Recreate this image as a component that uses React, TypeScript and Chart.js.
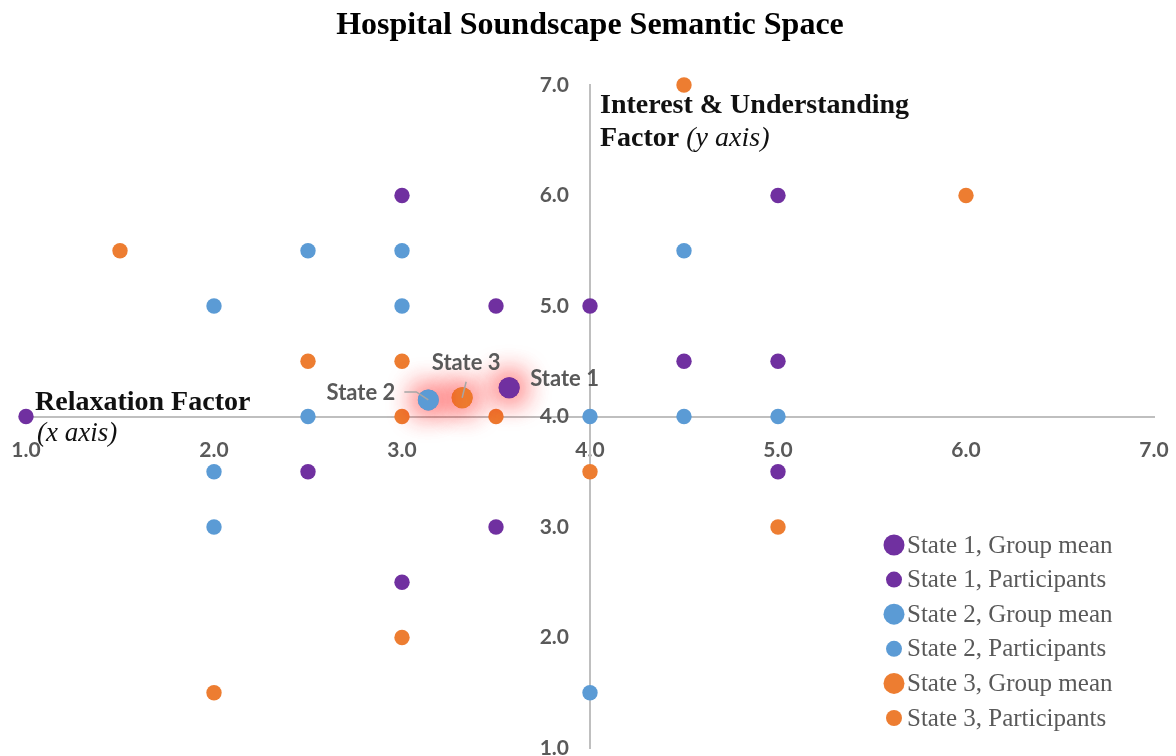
import React, { useEffect, useRef } from "react";
import { Chart, registerables } from "chart.js";

Chart.register(...registerables);

const TITLE = "Hospital Soundscape Semantic Space";
const X_TICKS = [1, 2, 3, 4, 5, 6, 7];
const Y_TICKS = [1, 2, 3, 4, 5, 6, 7];

const seriesLabels = [
  "State 1, Group mean",
  "State 1, Participants",
  "State 2, Group mean",
  "State 2, Participants",
  "State 3, Group mean",
  "State 3, Participants",
];
const meanTags = ["State 1", "State 2", "State 3"];

const state1MeanX = [3.57];
const state1MeanY = [4.26];
const state1X = [1.0, 3.0, 5.0, 3.5, 4.0, 4.5, 5.0, 2.5, 5.0, 3.5, 3.0];
const state1Y = [4.0, 6.0, 6.0, 5.0, 5.0, 4.5, 4.5, 3.5, 3.5, 3.0, 2.5];

const state2MeanX = [3.14];
const state2MeanY = [4.15];
const state2X = [2.5, 3.0, 4.5, 2.0, 3.0, 2.5, 4.0, 4.5, 5.0, 2.0, 2.0, 4.0];
const state2Y = [5.5, 5.5, 5.5, 5.0, 5.0, 4.0, 4.0, 4.0, 4.0, 3.5, 3.0, 1.5];

const state3MeanX = [3.32];
const state3MeanY = [4.17];
const state3X = [4.5, 6.0, 1.5, 2.5, 3.0, 3.0, 3.5, 4.0, 5.0, 3.0, 2.0];
const state3Y = [7.0, 6.0, 5.5, 4.5, 4.5, 4.0, 4.0, 3.5, 3.0, 2.0, 1.5];

const PURPLE = "#7030A0";
const BLUE = "#5B9BD5";
const ORANGE = "#ED7D31";
const GREY_TEXT = "#595959";
const AXIS_GREY = "#BFBFBF";
const SERIF = "'Liberation Serif', 'DejaVu Serif', serif";
const SANS = "Lato, 'Open Sans', sans-serif";

const zip = (xs: number[], ys: number[]) => xs.map((x, i) => ({ x, y: ys[i] }));

const glowPlugin = {
  id: "glow",
  beforeDatasetDraw(chart: any, args: any) {
    const ds = chart.data.datasets[args.index];
    if (ds.isMean) {
      const ctx = chart.ctx;
      ctx.save();
      ctx.shadowColor = "rgba(255, 0, 0, 0.9)";
      ctx.shadowBlur = 30;
      args.meta.data.forEach((el: any) => el.draw(ctx));
    }
  },
  afterDatasetDraw(chart: any, args: any) {
    const ds = chart.data.datasets[args.index];
    if (ds.isMean) chart.ctx.restore();
  },
};

const annotationPlugin = {
  id: "annotations",
  afterDatasetsDraw(chart: any) {
    const ctx = chart.ctx;
    const xs = chart.scales.x;
    const ys = chart.scales.y;
    const px = (v: number) => xs.getPixelForValue(v);
    const py = (v: number) => ys.getPixelForValue(v);
    ctx.save();
    ctx.shadowColor = "transparent";
    ctx.shadowBlur = 0;

    // axis titles
    ctx.fillStyle = "#111111";
    ctx.textAlign = "left";
    ctx.textBaseline = "alphabetic";
    const yax = px(4) + 10;
    const top = py(Y_TICKS[Y_TICKS.length - 1]);
    ctx.font = `bold 28px ${SERIF}`;
    ctx.fillText("Interest & Understanding", yax, top + 28);
    ctx.fillText("Factor ", yax, top + 61);
    const fw = ctx.measureText("Factor ").width;
    ctx.font = `italic 28px ${SERIF}`;
    ctx.fillText("(y axis)", yax + fw, top + 61);

    const xax = px(X_TICKS[0]);
    ctx.font = `bold 28px ${SERIF}`;
    ctx.fillText("Relaxation Factor", xax + 9, py(4) - 7);
    ctx.font = `italic 27px ${SERIF}`;
    ctx.fillText("(x axis)", xax + 11, py(4) + 24);

    // group-mean tags
    const m1 = { x: px(state1MeanX[0]), y: py(state1MeanY[0]) };
    const m2 = { x: px(state2MeanX[0]), y: py(state2MeanY[0]) };
    const m3 = { x: px(state3MeanX[0]), y: py(state3MeanY[0]) };

    ctx.strokeStyle = "#A6A6A6";
    ctx.lineWidth = 1.5;
    ctx.beginPath();
    ctx.moveTo(m2.x - 24, m2.y - 8);
    ctx.lineTo(m2.x - 12, m2.y - 8);
    ctx.lineTo(m2.x, m2.y);
    ctx.stroke();
    ctx.beginPath();
    ctx.moveTo(m3.x + 4, m3.y - 16);
    ctx.lineTo(m3.x, m3.y);
    ctx.stroke();

    ctx.fillStyle = GREY_TEXT;
    ctx.font = `bold 22px ${SANS}`;
    ctx.textBaseline = "middle";
    ctx.textAlign = "left";
    ctx.fillText(meanTags[0], m1.x + 21, m1.y - 9);
    ctx.textAlign = "right";
    ctx.fillText(meanTags[1], m2.x - 33, m2.y - 7);
    ctx.textAlign = "center";
    ctx.fillText(meanTags[2], m3.x + 4, m3.y - 35);

    // legend
    const lx = 894;
    let ly = 545;
    ctx.textAlign = "left";
    ctx.font = `25px ${SERIF}`;
    chart.data.datasets.forEach((ds: any) => {
      ctx.fillStyle = ds.backgroundColor;
      ctx.beginPath();
      ctx.arc(lx, ly, ds.isMean ? 10.5 : 8, 0, Math.PI * 2);
      ctx.fill();
      ctx.fillStyle = GREY_TEXT;
      ctx.fillText(ds.label, lx + 13, ly + 1);
      ly += 34.6;
    });
    ctx.restore();
  },
};

const noEdgePadding = (s: any) => {
  s.paddingTop = 0;
  s.paddingBottom = 0;
  s.paddingLeft = 0;
  s.paddingRight = 0;
};

export default function App() {
  const ref = useRef<HTMLCanvasElement | null>(null);
  useEffect(() => {
    if (!ref.current) return;
    const mk = (label: string, data: any[], color: string, mean: boolean, order: number) => ({
      label,
      data,
      backgroundColor: color,
      borderWidth: 0,
      pointRadius: mean ? 10.5 : 7.7,
      pointHoverRadius: mean ? 10.5 : 7.7,
      isMean: mean,
      order,
      clip: false,
    });
    const chart = new Chart(ref.current, {
      type: "scatter",
      data: {
        datasets: [
          mk(seriesLabels[0], zip(state1MeanX, state1MeanY), PURPLE, true, 0),
          mk(seriesLabels[1], zip(state1X, state1Y), PURPLE, false, 5),
          mk(seriesLabels[2], zip(state2MeanX, state2MeanY), BLUE, true, 1),
          mk(seriesLabels[3], zip(state2X, state2Y), BLUE, false, 4),
          mk(seriesLabels[4], zip(state3MeanX, state3MeanY), ORANGE, true, 2),
          mk(seriesLabels[5], zip(state3X, state3Y), ORANGE, false, 3),
        ] as any,
      },
      options: {
        animation: false,
        responsive: false,
        events: [],
        layout: { autoPadding: false, padding: { left: 26, right: 22, top: 0, bottom: 8 } },
        plugins: {
          legend: { display: false },
          tooltip: { enabled: false },
          title: {
            display: true,
            text: TITLE,
            color: "#000000",
            font: { family: SERIF, size: 32, weight: "bold" },
            padding: { top: 7, bottom: 39.6 },
          },
        },
        scales: {
          x: {
            type: "linear",
            min: X_TICKS[0],
            max: X_TICKS[X_TICKS.length - 1],
            position: "center",
            grid: { display: false, drawTicks: false },
            border: { display: true, color: AXIS_GREY, width: 2 },
            afterBuildTicks: (s: any) => {
              s.ticks = X_TICKS.map((v) => ({ value: v }));
            },
            afterFit: noEdgePadding,
            ticks: {
              callback: (v: any) => Number(v).toFixed(1),
              color: GREY_TEXT,
              font: { family: SANS, size: 21, weight: "bold" },
              padding: 21,
              maxRotation: 0,
              autoSkip: false,
            },
          },
          y: {
            type: "linear",
            min: Y_TICKS[0],
            max: Y_TICKS[Y_TICKS.length - 1],
            position: "center",
            grid: { display: false, drawTicks: false },
            border: { display: true, color: AXIS_GREY, width: 2 },
            afterBuildTicks: (s: any) => {
              s.ticks = Y_TICKS.map((v) => ({ value: v }));
            },
            afterFit: noEdgePadding,
            ticks: {
              callback: (v: any) => Number(v).toFixed(1),
              color: GREY_TEXT,
              font: { family: SANS, size: 21, weight: "bold" },
              padding: 21,
              autoSkip: false,
            },
          },
        },
      } as any,
      plugins: [glowPlugin, annotationPlugin],
    });
    return () => chart.destroy();
  }, []);

  return (
    <div style={{ position: "fixed", left: 0, top: 0, width: 1176, height: 756, background: "#ffffff" }}>
      <canvas ref={ref} width={1176} height={756} style={{ display: "block" }} />
    </div>
  );
}
